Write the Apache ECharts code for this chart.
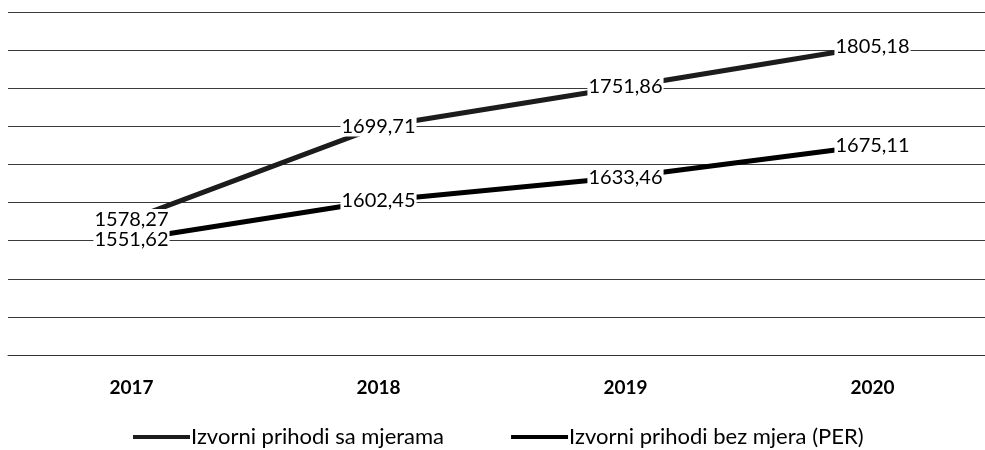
<!DOCTYPE html>
<html>
<head>
<meta charset="utf-8">
<script src="https://cdn.jsdelivr.net/npm/echarts@6/dist/echarts.min.js"></script>
<style>
html,body{margin:0;padding:0;background:#fff;}
#chart{width:985px;height:450px;}
</style>
</head>
<body>
<div id="chart"></div>
<script>
const categories = ['2017', '2018', '2019', '2020'];
const seriesNames = ['Izvorni prihodi sa mjerama', 'Izvorni prihodi bez mjera (PER)'];
const saMjerama = [1578.27, 1699.71, 1751.86, 1805.18];
const bezMjera = [1551.62, 1602.45, 1633.46, 1675.11];
const yMin = 1400, yMax = 1850, yStep = 50;

const fmt = p => Number(p.value).toFixed(2).replace('.', ',');
const FONT = 'Lato, "Open Sans", sans-serif';

const labelStyle = {
  show: true,
  position: 'inside',
  formatter: fmt,
  color: '#000',
  fontFamily: FONT,
  fontSize: 20,
  backgroundColor: '#fff',
  padding: [0, 1]
};

const chart = echarts.init(document.getElementById('chart'), null, {renderer: 'canvas'});
chart.setOption({
  animation: false,
  backgroundColor: '#fff',
  grid: {left: 8, width: 988, top: 12, height: 343, containLabel: false, outerBoundsMode: 'none'},
  xAxis: {
    type: 'category',
    data: categories,
    boundaryGap: true,
    axisLine: {show: true, lineStyle: {color: '#333', width: 1}},
    axisTick: {show: false},
    axisLabel: {color: '#000', fontFamily: FONT, fontSize: 19, fontWeight: 'bold', margin: 23}
  },
  yAxis: {
    type: 'value',
    min: yMin, max: yMax, interval: yStep,
    axisLine: {show: false},
    axisTick: {show: false},
    axisLabel: {show: false},
    splitLine: {show: true, lineStyle: {color: '#3a3a3a', width: 1}}
  },
  legend: {
    show: true,
    left: 133,
    top: 426,
    padding: [0, 0, 0, 0],
    itemWidth: 57,
    itemHeight: 4,
    itemGap: 67,
    icon: 'rect',
    textStyle: {color: '#000', fontFamily: FONT, fontSize: 22, padding: [0, 0, 0, -4]},
    data: seriesNames
  },
  series: [
    {
      name: seriesNames[0],
      type: 'line',
      data: saMjerama,
      symbol: 'circle',
      symbolSize: 1,
      showSymbol: true,
      lineStyle: {color: '#1c1c1c', width: 5},
      itemStyle: {color: '#1c1c1c'},
      label: labelStyle,
      z: 3
    },
    {
      name: seriesNames[1],
      type: 'line',
      data: bezMjera,
      symbol: 'circle',
      symbolSize: 1,
      showSymbol: true,
      lineStyle: {color: '#000', width: 5},
      itemStyle: {color: '#000'},
      label: labelStyle,
      z: 3
    }
  ]
});
</script>
</body>
</html>
